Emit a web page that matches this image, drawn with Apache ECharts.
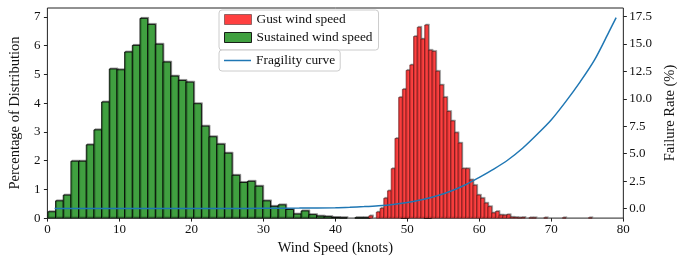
<!DOCTYPE html>
<html><head><meta charset="utf-8">
<script src="https://cdn.jsdelivr.net/npm/echarts@6/dist/echarts.min.js"></script>
<style>html,body{margin:0;padding:0;background:#fff}#c{width:686px;height:261px}</style>
</head><body><div id="c"></div>
<script>
// Sustained wind speed histogram (percent per bin)
const sustainedStart = 0.07;
const sustainedWidth = 1.066;
const sustainedValues = [0.22,0.60,0.80,1.98,1.98,2.55,3.07,4.04,5.19,5.16,
  5.78,6.01,6.95,6.74,6.05,5.43,4.94,4.79,4.73,3.98,
  3.20,2.83,2.57,2.26,1.49,1.24,1.28,1.11,0.60,0.41,
  0.46,0.30,0.14,0.25,0.12,0.07,0.05,0.02,0.01,0,
  0.01,0.01,0,0,0,0,0.01,0,0,0.01];
// Gust wind speed histogram (percent per bin)
const gustStart = 44.65;
const gustWidth = 0.517;
const gustValues = [0.08,0,0.21,0.34,0.69,0.95,1.72,2.77,4.20,4.48,
  5.14,5.33,6.32,6.64,6.23,6.72,5.84,5.80,5.11,4.63,
  4.20,3.71,3.38,2.97,2.61,1.72,1.72,1.33,1.14,0.80,
  0.69,0.52,0.40,0.18,0.23,0.11,0.10,0.12,0.03,0.02,
  0.01,0.02,0,0.01,0.01,0,0,0.01,0,0,
  0,0,0.01,0,0,0,0,0,0,0.01];
// Fragility curve (failure rate %)
const fragilityX = [1,5,10,15,20,25,30,35,40,42,44,46,48,50,52,54,56,58,60,62,64,66,68,70,72,74,76,78,79];
const fragilityY = [0,0,0,0,0,0.01,0.02,0.04,0.08,0.12,0.18,0.26,0.38,0.56,0.80,1.15,1.58,2.15,2.85,3.6,4.45,5.5,6.75,8.1,9.75,11.55,13.55,16.1,17.41];
// Tick labels
const xTicks = [0,10,20,30,40,50,60,70,80];
const leftTicks = [0,1,2,3,4,5,6,7];
const rightTicks = [0,2.5,5,7.5,10,12.5,15,17.5];

const FONT = 'Liberation Serif';
const INK = '#111';

function binData(start, width, values){
  const out = [];
  values.forEach((v, i) => { if (v > 0) out.push([start + i*width, start + (i+1)*width, v]); });
  return out;
}
function histRender(fill, edge, lw){
  return function(params, api){
    const a = api.coord([api.value(0), api.value(2)]);
    const b = api.coord([api.value(1), 0]);
    return {
      type: 'rect',
      shape: {x: a[0], y: a[1], width: b[0]-a[0], height: b[1]-a[1]},
      style: {fill: fill, stroke: edge, lineWidth: lw,
        shadowColor: 'rgba(0,0,0,0.35)', shadowBlur: 0, shadowOffsetX: 1, shadowOffsetY: -1}
    };
  };
}

const chart = echarts.init(document.getElementById('c'), null, {renderer: 'canvas'});
const greenFill = '#40a040';
const redFill = '#ff4040';
const blue = '#1f77b4';
chart.setOption({
  animation: false,
  backgroundColor: '#fff',
  textStyle: {fontFamily: FONT},
  grid: {left: 44, right: 58, top: 8, bottom: 40, show: true, borderColor: '#222', borderWidth: 1, backgroundColor: 'transparent'},
  legend: [
    {
      data: [
        {name: 'Gust wind speed', icon: 'rect', itemStyle: {color: redFill, borderColor: 'rgba(0,0,0,0.5)', borderWidth: 0.8}},
        {name: 'Sustained wind speed', icon: 'rect', itemStyle: {color: greenFill, borderColor: 'rgba(0,0,0,0.85)', borderWidth: 1}}
      ],
      orient: 'vertical', left: 219, top: 10,
      itemWidth: 27, itemHeight: 10, itemGap: 5,
      padding: [3, 6, 6, 5],
      backgroundColor: 'rgba(255,255,255,0.85)', borderColor: '#ccc', borderWidth: 1, borderRadius: 3,
      textStyle: {fontFamily: FONT, fontSize: 13.4, color: INK}
    },
    {
      data: [{name: 'Fragility curve', icon: 'rect', itemStyle: {color: blue, borderWidth: 0}}],
      orient: 'vertical', left: 219, top: 50,
      itemWidth: 27, itemHeight: 1.5,
      padding: [4, 5, 4, 5],
      backgroundColor: 'rgba(255,255,255,0.85)', borderColor: '#ccc', borderWidth: 1, borderRadius: 3,
      textStyle: {fontFamily: FONT, fontSize: 13.4, color: INK}
    }
  ],
  xAxis: {
    type: 'value', min: xTicks[0], max: xTicks[xTicks.length-1], interval: 10,
    name: 'Wind Speed (knots)', nameLocation: 'middle', nameGap: 20,
    nameTextStyle: {fontFamily: FONT, fontSize: 14.5, color: INK},
    axisLine: {show: false},
    axisTick: {show: true, length: 3.5, lineStyle: {color: '#222'}},
    axisLabel: {fontFamily: FONT, fontSize: 13, color: INK, margin: 5},
    splitLine: {show: false}
  },
  yAxis: [
    {
      type: 'value', min: 0, max: 7.31, position: 'left',
      name: 'Percentage of Distribution', nameLocation: 'middle', nameGap: 14, nameRotate: 90,
      nameTextStyle: {fontFamily: FONT, fontSize: 14.5, color: INK},
      axisLine: {show: false},
      axisTick: {show: true, length: 3.5, lineStyle: {color: '#222'}, customValues: leftTicks},
      axisLabel: {fontFamily: FONT, fontSize: 13, color: INK, margin: 7, customValues: leftTicks},
      splitLine: {show: false}
    },
    {
      type: 'value', min: -0.87, max: 18.28, position: 'right',
      name: 'Failure Rate (%)', nameLocation: 'middle', nameGap: 31, nameRotate: 90,
      nameTextStyle: {fontFamily: FONT, fontSize: 14.5, color: INK},
      axisLine: {show: false},
      axisTick: {show: true, length: 3.5, lineStyle: {color: '#222'}, customValues: rightTicks},
      axisLabel: {fontFamily: FONT, fontSize: 13, color: INK, margin: 6, customValues: rightTicks,
        formatter: v => v.toFixed(1)},
      splitLine: {show: false}
    }
  ],
  series: [
    {
      name: 'Gust wind speed', type: 'custom', yAxisIndex: 0, z: 3,
      itemStyle: {color: redFill},
      renderItem: histRender(redFill, 'rgba(60,0,0,0.7)', 0.7),
      encode: {x: [0, 1], y: 2},
      data: binData(gustStart, gustWidth, gustValues)
    },
    {
      name: 'Sustained wind speed', type: 'custom', yAxisIndex: 0, z: 2,
      itemStyle: {color: greenFill},
      renderItem: histRender(greenFill, 'rgba(0,0,0,0.85)', 1),
      encode: {x: [0, 1], y: 2},
      data: binData(sustainedStart, sustainedWidth, sustainedValues)
    },
    {
      name: 'Fragility curve', type: 'line', yAxisIndex: 1, z: 5,
      data: fragilityX.map((x, i) => [x, fragilityY[i]]),
      smooth: 0.3, showSymbol: false, symbol: 'none',
      lineStyle: {color: blue, width: 1.5}, itemStyle: {color: blue},
      clip: false
    }
  ]
});
</script></body></html>
